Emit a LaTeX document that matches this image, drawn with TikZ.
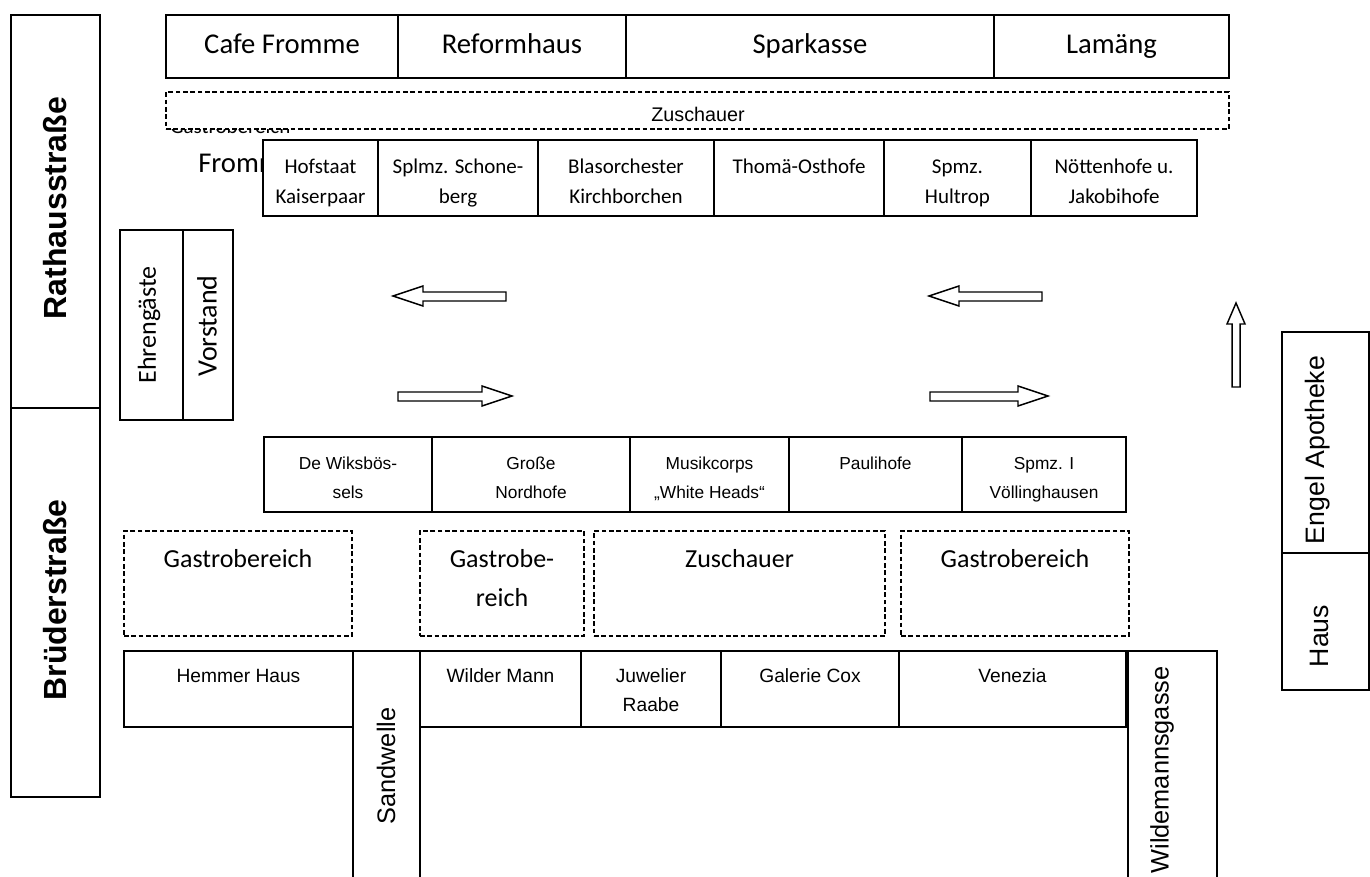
\documentclass[tikz,border=0pt]{standalone}
\usepackage{fontspec}
\setmainfont{Carlito}
\newfontfamily\arial{Liberation Sans}
\usetikzlibrary{fit}
\newcommand\fTop{\fontsize{21.5pt}{26pt}\selectfont}
\newcommand\fRow{\fontsize{15.75pt}{22.5pt}\selectfont}
\newcommand\fSmall{\arial\fontsize{13pt}{21.75pt}\selectfont}
\newcommand\fZus{\arial\fontsize{14.8pt}{18pt}\selectfont}
\newcommand\fBot{\arial\fontsize{14.4pt}{21.75pt}\selectfont}
\newcommand\fGastro{\fontsize{19.5pt}{29.25pt}\selectfont}
\newcommand\fStreet{\arial\bfseries\fontsize{24pt}{28pt}\selectfont}
\newcommand\fSide{\arial\fontsize{19pt}{23pt}\selectfont}
\newcommand\fEngel{\arial\fontsize{20pt}{24pt}\selectfont}
\begin{document}
\begin{tikzpicture}[x=0.75pt,y=-0.75pt,
  box/.style={draw, line width=0.9pt, inner sep=0pt, fill=white},
  dbox/.style={draw, line width=0.8pt, dash pattern=on 3.5pt off 2pt, inner sep=0pt, fill=white},
  tb/.style={inner sep=0pt, anchor=base},
  tn/.style={inner sep=0pt, anchor=north, align=center},
  rot/.style={inner sep=0pt, rotate=90},
  blockarrow/.style={draw, line width=1.1pt, fill=white, line join=miter}]
\useasboundingbox (0,0) rectangle (1370,876);

% street names left
\node[box, fit={(11,15)(100,408)}] (rath) {};
\node[box, fit={(11,408)(100,797)}] (brued) {};
\node[rot, font=\fStreet] (rathT) at (55,208) {Rathausstraße};
\node[rot, font=\fStreet] (bruedT) at (55,600) {Brüderstraße};

% top row
\node[box, fit={(166,15)(398,78)}] (cafe) {};
\node[box, fit={(398,15)(626,78)}] (reform) {};
\node[box, fit={(626,15)(994,78)}] (spark) {};
\node[box, fit={(994,15)(1229,78)}] (lam) {};
\node[tb, font=\fTop] (cafeT) at (282,53) {Cafe Fromme};
\node[tb, font=\fTop] (reformT) at (512,53) {Reformhaus};
\node[tb, font=\fTop] (sparkT) at (810,53) {Sparkasse};
\node[tb, font=\fTop] (lamT) at (1111.5,53) {Lamäng};

% hidden text behind the spectator box
\node[inner sep=0pt, anchor=base west, font=\fRow] (hidG) at (170,133) {Gastrobereich};
\node[dbox, fit={(166,92)(1229,129)}] (zusTop) {};
\node[tb, font=\fZus] (zusTopT) at (698,121) {Zuschauer};

% hidden Fromme text
\node[inner sep=0pt, anchor=base west, font=\fTop] (fromT) at (198,172) {Fromme};

% second row
\node[box, fit={(263,140)(378,216)}] (hof) {};
\node[box, fit={(378,140)(538,216)}] (splmz) {};
\node[box, fit={(538,140)(714,216)}] (blas) {};
\node[box, fit={(714,140)(884,216)}] (thoma) {};
\node[box, fit={(884,140)(1031,216)}] (hult) {};
\node[box, fit={(1031,140)(1197,216)}] (nott) {};
\node[tn, font=\fRow] (hofT) at (320.5,152) {\strut Hofstaat\\Kaiserpaar};
\node[tn, font=\fRow] (splmzT) at (458,152) {\strut Splmz. Schone-\\berg};
\node[tn, font=\fRow] (blasT) at (626,152) {\strut Blasorchester\\Kirchborchen};
\node[tn, font=\fRow] (thomaT) at (799,152) {\strut Thomä-Osthofe};
\node[tn, font=\fRow] (hultT) at (957.5,152) {\strut Spmz.\\Hultrop};
\node[tn, font=\fRow] (nottT) at (1114,152) {\strut Nöttenhofe u.\\Jakobihofe};

% guests
\node[box, fit={(120,230)(183,420)}] (ehren) {};
\node[box, fit={(183,230)(233,420)}] (vorst) {};
\node[rot, font=\fontsize{19.5pt}{23pt}\selectfont] (ehrenT) at (149,325) {Ehrengäste};
\node[rot, font=\fontsize{21pt}{25pt}\selectfont] (vorstT) at (207,326) {Vorstand};

% arrows
\draw[blockarrow] (393,296) -- (423,286) -- (423,292) -- (506,292) -- (506,301) -- (423,301) -- (423,306) -- cycle;
\draw[blockarrow] (929,296) -- (959,286) -- (959,292) -- (1042,292) -- (1042,301) -- (959,301) -- (959,306) -- cycle;
\draw[blockarrow] (512,396) -- (482,386) -- (482,392) -- (398,392) -- (398,401) -- (482,401) -- (482,406) -- cycle;
\draw[blockarrow] (1048,396) -- (1018,386) -- (1018,392) -- (930,392) -- (930,401) -- (1018,401) -- (1018,406) -- cycle;
\draw[blockarrow] (1236,303) -- (1245,324) -- (1240,324) -- (1240,387) -- (1232,387) -- (1232,324) -- (1227,324) -- cycle;

% third row
\node[box, fit={(264,437)(432,512)}] (wiks) {};
\node[box, fit={(432,437)(630,512)}] (nord) {};
\node[box, fit={(630,437)(789,512)}] (musik) {};
\node[box, fit={(789,437)(962,512)}] (pauli) {};
\node[box, fit={(962,437)(1126,512)}] (voell) {};
\node[tn, font=\fSmall] (wiksT) at (348,448.7) {\strut De Wiksbös-\\sels};
\node[tn, font=\fSmall] (nordT) at (531,448.7) {\strut Große\\Nordhofe};
\node[tn, font=\fSmall] (musikT) at (709.5,448.7) {\strut Musikcorps\\„White Heads“};
\node[tn, font=\fSmall] (pauliT) at (875.5,448.7) {\strut Paulihofe};
\node[tn, font=\fSmall] (voellT) at (1044,448.7) {\strut Spmz. I\\Völlinghausen};

% dashed areas
\node[dbox, fit={(124,531)(352,636)}] (g1) {};
\node[dbox, fit={(420,531)(584,636)}] (g2) {};
\node[dbox, fit={(594,531)(885,636)}] (zus) {};
\node[dbox, fit={(901,531)(1129,636)}] (g3) {};
\node[tn, font=\fGastro] (g1T) at (238,539.7) {\strut Gastrobereich};
\node[tn, font=\fGastro] (g2T) at (502,539.7) {\strut Gastrobe-\\reich};
\node[tn, font=\fGastro] (zusT) at (739.5,539.7) {\strut Zuschauer};
\node[tn, font=\fGastro] (g3T) at (1015,539.7) {\strut Gastrobereich};

% bottom row
\node[box, fit={(124,651)(353,727)}] (hemmer) {};
\node[box, fit={(353,651)(420,885)}] (sandw) {};
\node[box, fit={(420,651)(581,727)}] (wilder) {};
\node[box, fit={(581,651)(721,727)}] (juw) {};
\node[box, fit={(721,651)(899,727)}] (gal) {};
\node[box, fit={(899,651)(1126,727)}] (ven) {};
\node[box, fit={(1128,651)(1217,885)}] (wgasse) {};
\node[tn, font=\fBot] (hemmerT) at (238.5,661.7) {\strut Hemmer Haus};
\node[tn, font=\fBot] (wilderT) at (500.5,661.7) {\strut Wilder Mann};
\node[tn, font=\fBot] (juwT) at (651,661.7) {\strut Juwelier\\Raabe};
\node[tn, font=\fBot] (galT) at (810,661.7) {\strut Galerie Cox};
\node[tn, font=\fBot] (venT) at (1012.5,661.7) {\strut Venezia};
\node[rot, font=\fSide] (sandwT) at (386,766) {Sandwelle};
\node[rot, font=\fSide] (wgasseT) at (1162,770) {Wildemannsgasse};

% right side
\node[box, fit={(1282,332)(1369,553)}] (engel) {};
\node[box, fit={(1282,553)(1369,690)}] (haus) {};
\node[rot, font=\fEngel] (engelT) at (1318,450) {Engel Apotheke};
\node[rot, font=\fEngel] (hausT) at (1319,636) {Haus};
\end{tikzpicture}
\end{document}
